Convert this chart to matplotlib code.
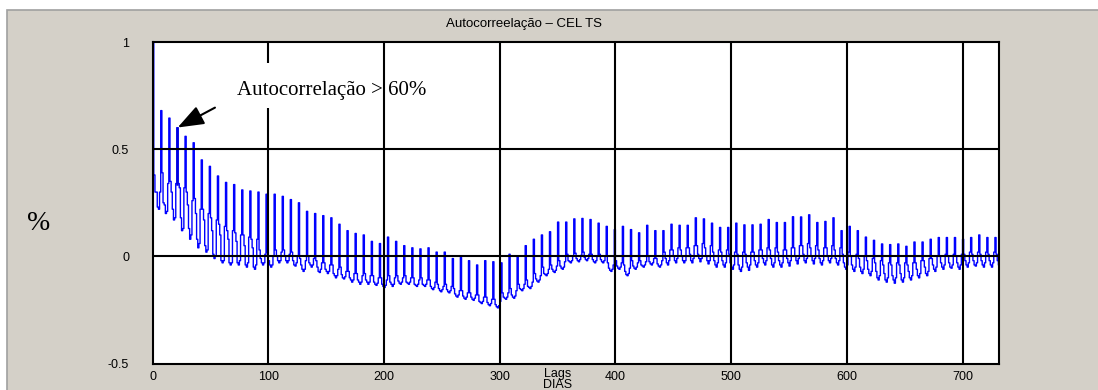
import numpy as np
import matplotlib
matplotlib.use("Agg")
import matplotlib.pyplot as plt
from matplotlib.patches import Rectangle

# Autocorrelation per lag (days), one row per week of lags
acf_a = [
    1.00, 0.38, 0.30, 0.30, 0.23, 0.22, 0.30,
    0.68, 0.39, 0.25, 0.24, 0.20, 0.21, 0.34,
    0.645, 0.35, 0.30, 0.22, 0.17, 0.18, 0.34,
    0.60, 0.34, 0.32, 0.18, 0.12, 0.13, 0.32,
    0.56, 0.30, 0.24, 0.13, 0.08, 0.10, 0.26,
    0.53, 0.27, 0.20, 0.08, 0.04, 0.06, 0.22,
    0.45, 0.22, 0.17, 0.05, 0.02, 0.03, 0.20,
    0.42, 0.18, 0.12, 0.01, -0.01, 0.00, 0.17,
    0.375, 0.15, 0.10, -0.02, -0.03, -0.02, 0.14,
    0.345, 0.12, 0.08, -0.03, -0.04, -0.03, 0.12,
    0.335, 0.11, 0.07, -0.03, -0.04, -0.02, 0.10,
    0.31, 0.10, 0.05, -0.04, -0.05, -0.03, 0.09,
    0.305, 0.08, 0.04, -0.05, -0.06, -0.04, 0.08,
    0.30, 0.03, -0.01, -0.03, -0.04, -0.03, 0.01,
    0.29, 0.02, -0.02, -0.04, -0.05, -0.04, 0.00,
    0.29, 0.03, 0.00, -0.02, -0.03, -0.02, 0.02,
    0.28, 0.03, 0.00, -0.02, -0.03, -0.02, 0.01,
    0.265, 0.02, -0.02, -0.04, -0.045, -0.03, 0.00,
    0.25, -0.01, -0.04, -0.06, -0.07, -0.06, -0.02,
    0.21, 0.00, -0.03, -0.04, -0.05, -0.04, -0.01,
    0.20, -0.02, -0.05, -0.07, -0.075, -0.06, -0.03,
]
acf_b = [
    0.19, -0.03, -0.06, -0.07, -0.08, -0.07, -0.04,
    0.18, -0.04, -0.08, -0.09, -0.10, -0.09, -0.06,
    0.15, -0.05, -0.085, -0.10, -0.105, -0.095, -0.07,
    0.12, -0.07, -0.10, -0.11, -0.12, -0.11, -0.08,
    0.107, -0.08, -0.11, -0.12, -0.13, -0.12, -0.09,
    0.10, -0.08, -0.11, -0.12, -0.13, -0.12, -0.09,
    0.07, -0.09, -0.12, -0.13, -0.135, -0.125, -0.10,
    0.06, -0.10, -0.13, -0.14, -0.145, -0.135, -0.11,
    0.09, -0.09, -0.12, -0.13, -0.14, -0.13, -0.10,
    0.07, -0.09, -0.115, -0.125, -0.13, -0.12, -0.10,
    0.05, -0.09, -0.12, -0.125, -0.13, -0.12, -0.10,
    0.04, -0.10, -0.13, -0.135, -0.14, -0.13, -0.11,
    0.035, -0.10, -0.13, -0.135, -0.14, -0.13, -0.11,
    0.04, -0.11, -0.14, -0.15, -0.155, -0.145, -0.12,
    0.02, -0.13, -0.15, -0.16, -0.165, -0.155, -0.14,
    0.02, -0.13, -0.155, -0.165, -0.17, -0.16, -0.14,
    -0.01, -0.15, -0.175, -0.185, -0.19, -0.18, -0.16,
    -0.005, -0.16, -0.185, -0.195, -0.20, -0.19, -0.17,
    -0.02, -0.17, -0.19, -0.20, -0.205, -0.195, -0.18,
    -0.04, -0.18, -0.21, -0.215, -0.22, -0.21, -0.19,
    -0.02, -0.19, -0.215, -0.225, -0.23, -0.22, -0.20,
]
acf_c = [
    -0.025, -0.20, -0.225, -0.235, -0.24, -0.23, -0.21,
    -0.03, -0.17, -0.19, -0.195, -0.20, -0.19, -0.17,
    0.01, -0.15, -0.18, -0.19, -0.195, -0.185, -0.16,
    0.00, -0.13, -0.15, -0.155, -0.16, -0.15, -0.13,
    0.05, -0.11, -0.14, -0.145, -0.15, -0.14, -0.12,
    0.08, -0.08, -0.105, -0.115, -0.12, -0.11, -0.09,
    0.10, -0.05, -0.08, -0.085, -0.09, -0.08, -0.06,
    0.115, -0.04, -0.06, -0.07, -0.075, -0.065, -0.045,
    0.16, -0.02, -0.045, -0.055, -0.06, -0.05, -0.025,
    0.16, 0.01, -0.02, -0.025, -0.03, -0.02, 0.00,
    0.175, 0.015, -0.01, -0.02, -0.025, -0.015, 0.005,
    0.177, 0.02, -0.005, -0.015, -0.02, -0.01, 0.01,
    0.172, 0.01, -0.015, -0.025, -0.03, -0.02, 0.00,
    0.155, 0.01, -0.015, -0.025, -0.03, -0.02, 0.00,
    0.14, -0.03, -0.055, -0.065, -0.07, -0.06, -0.04,
    0.125, -0.02, -0.045, -0.055, -0.06, -0.05, -0.03,
    0.14, -0.04, -0.07, -0.085, -0.09, -0.08, -0.055,
    0.125, -0.02, -0.045, -0.055, -0.06, -0.05, -0.03,
    0.11, -0.02, -0.04, -0.045, -0.05, -0.04, -0.025,
    0.145, 0.00, -0.025, -0.035, -0.04, -0.03, -0.01,
    0.12, -0.01, -0.035, -0.045, -0.05, -0.04, -0.02,
]
acf_d = [
    0.12, 0.02, -0.01, -0.03, -0.04, -0.02, 0.03,
    0.15, 0.03, 0.00, -0.02, -0.03, -0.01, 0.04,
    0.145, 0.03, 0.00, -0.02, -0.03, -0.02, 0.04,
    0.145, 0.04, 0.01, -0.02, -0.03, -0.01, 0.05,
    0.18, 0.05, 0.01, -0.01, -0.025, -0.01, 0.06,
    0.175, 0.04, 0.00, -0.02, -0.035, -0.02, 0.05,
    0.155, 0.02, -0.02, -0.04, -0.05, -0.03, 0.03,
    0.135, 0.02, -0.02, -0.04, -0.05, -0.03, 0.03,
    0.135, 0.01, -0.03, -0.05, -0.06, -0.04, 0.02,
    0.155, 0.01, -0.04, -0.06, -0.07, -0.05, 0.02,
    0.147, 0.01, -0.03, -0.05, -0.065, -0.04, 0.02,
    0.147, 0.02, -0.02, -0.04, -0.05, -0.03, 0.03,
    0.15, 0.03, -0.01, -0.03, -0.04, -0.02, 0.04,
    0.172, 0.03, -0.01, -0.04, -0.05, -0.03, 0.04,
    0.158, 0.02, -0.02, -0.04, -0.05, -0.03, 0.03,
    0.158, 0.03, -0.01, -0.03, -0.045, -0.02, 0.04,
    0.185, 0.04, 0.00, -0.02, -0.035, -0.01, 0.05,
    0.184, 0.05, 0.01, -0.02, -0.03, -0.01, 0.06,
    0.194, 0.04, 0.00, -0.02, -0.035, -0.01, 0.05,
    0.158, 0.03, -0.01, -0.03, -0.04, -0.02, 0.04,
    0.163, 0.04, 0.00, -0.02, -0.03, -0.01, 0.05,
]
acf_e = [
    0.18, 0.03, -0.01, -0.03, -0.04, -0.02, 0.04,
    0.12, 0.01, -0.03, -0.05, -0.06, -0.04, 0.02,
    0.14, 0.00, -0.04, -0.06, -0.07, -0.05, 0.01,
    0.12, -0.01, -0.05, -0.07, -0.08, -0.06, 0.00,
    0.09, -0.02, -0.06, -0.08, -0.09, -0.07, -0.01,
    0.075, -0.03, -0.07, -0.10, -0.11, -0.09, -0.02,
    0.058, -0.04, -0.08, -0.11, -0.12, -0.10, -0.03,
    0.055, -0.04, -0.09, -0.11, -0.125, -0.10, -0.03,
    0.058, -0.04, -0.08, -0.11, -0.12, -0.10, -0.03,
    0.047, -0.04, -0.07, -0.10, -0.11, -0.09, -0.03,
    0.067, -0.03, -0.06, -0.09, -0.10, -0.08, -0.02,
    0.067, -0.02, -0.05, -0.08, -0.09, -0.07, -0.01,
    0.08, -0.01, -0.04, -0.06, -0.07, -0.05, 0.00,
    0.088, 0.00, -0.03, -0.05, -0.06, -0.04, 0.01,
    0.088, 0.00, -0.03, -0.05, -0.055, -0.04, 0.01,
    0.088, 0.00, -0.03, -0.05, -0.06, -0.04, 0.01,
    0.08, 0.01, -0.02, -0.04, -0.05, -0.03, 0.02,
    0.088, 0.01, -0.02, -0.04, -0.045, -0.03, 0.02,
    0.10, 0.01, -0.02, -0.04, -0.05, -0.03, 0.02,
    0.088, 0.01, -0.02, -0.04, -0.05, -0.03, 0.02,
    0.088, 0.01, -0.02, -0.04, -0.045, -0.03, 0.02,
]

x_ticks = [0, 100, 200, 300, 400, 500, 600, 700]
y_ticks = [-0.5, 0, 0.5, 1]
y_tick_labels = ['-0.5', '0', '0.5', '1']
ref_levels = [0, 0.5]
arrow_lag = 21

acf = np.array(acf_a + acf_b + acf_c + acf_d + acf_e)
lags = np.arange(len(acf))

plt.rcParams['font.family'] = ['Liberation Sans', 'DejaVu Sans']

fig = plt.figure(figsize=(10.98, 3.90), dpi=100)
fig.patch.set_facecolor('white')

# grey window panel behind the chart
panel = Rectangle((7 / 1098, -0.1), 1.2, 380 / 390 + 0.1, transform=fig.transFigure,
                  facecolor='#d4d0c8', edgecolor='#a0a0a0', lw=1.2, zorder=-5)
fig.patches.append(panel)

ax = fig.add_axes([0.139, 0.0677, 0.7708, 0.8246])
ax.set_zorder(2)
ax.set_facecolor('white')

ax.step(lags, acf, where='post', color='#0000ff', lw=1.0, zorder=2)
# the highlighted lag gets a heavier edge
ax.plot([arrow_lag, arrow_lag], [acf[arrow_lag - 1], acf[arrow_lag]],
        color='#0000e0', lw=1.8, zorder=2.5)

# black grid drawn over the series
for x in x_ticks[1:]:
    ax.axvline(x, color='black', lw=1.5, zorder=3)
for y in ref_levels:
    ax.axhline(y, color='black', lw=1.5, zorder=3)

# white gap behind the note
ax.add_patch(Rectangle((85, 0.69), 30, 0.21, facecolor='white', edgecolor='none', zorder=4))

ax.annotate('', xy=(arrow_lag - 1.5, acf[arrow_lag] - 0.005), xytext=(56, 0.70),
            arrowprops=dict(arrowstyle='-|>,head_length=0.8,head_width=0.3',
                            color='black', lw=1.5, mutation_scale=20),
            zorder=6)
ax.text(73, 0.775, 'Autocorrelação > 60%', family=['Liberation Serif', 'DejaVu Serif'],
        fontsize=15, ha='left', va='center', zorder=6)

ax.set_xlim(0, 731.5)
ax.set_ylim(-0.5, 1)
ax.set_xticks(x_ticks)
ax.set_yticks(y_ticks)
ax.set_yticklabels(y_tick_labels)
ax.tick_params(axis='both', length=0, labelsize=9, colors='black')
ax.tick_params(axis='y', pad=17)
ax.tick_params(axis='x', pad=5)
for s in ax.spines.values():
    s.set_color('black')
    s.set_linewidth(1.5)

fig.text(524 / 1098, 1 - 24 / 390, 'Autocorreelação – CEL TS', ha='center', va='center', fontsize=9.5)
fig.text(39 / 1098, 1 - 223 / 390, '%', ha='center', va='center', fontsize=20,
         family=['Liberation Serif', 'DejaVu Serif'])
fig.text(558 / 1098, 1 - 374 / 390, 'Lags', ha='center', va='center', fontsize=9)
fig.text(558 / 1098, 1 - 385 / 390, 'DIAS', ha='center', va='center', fontsize=9)

fig.savefig('out.png', dpi=100)
